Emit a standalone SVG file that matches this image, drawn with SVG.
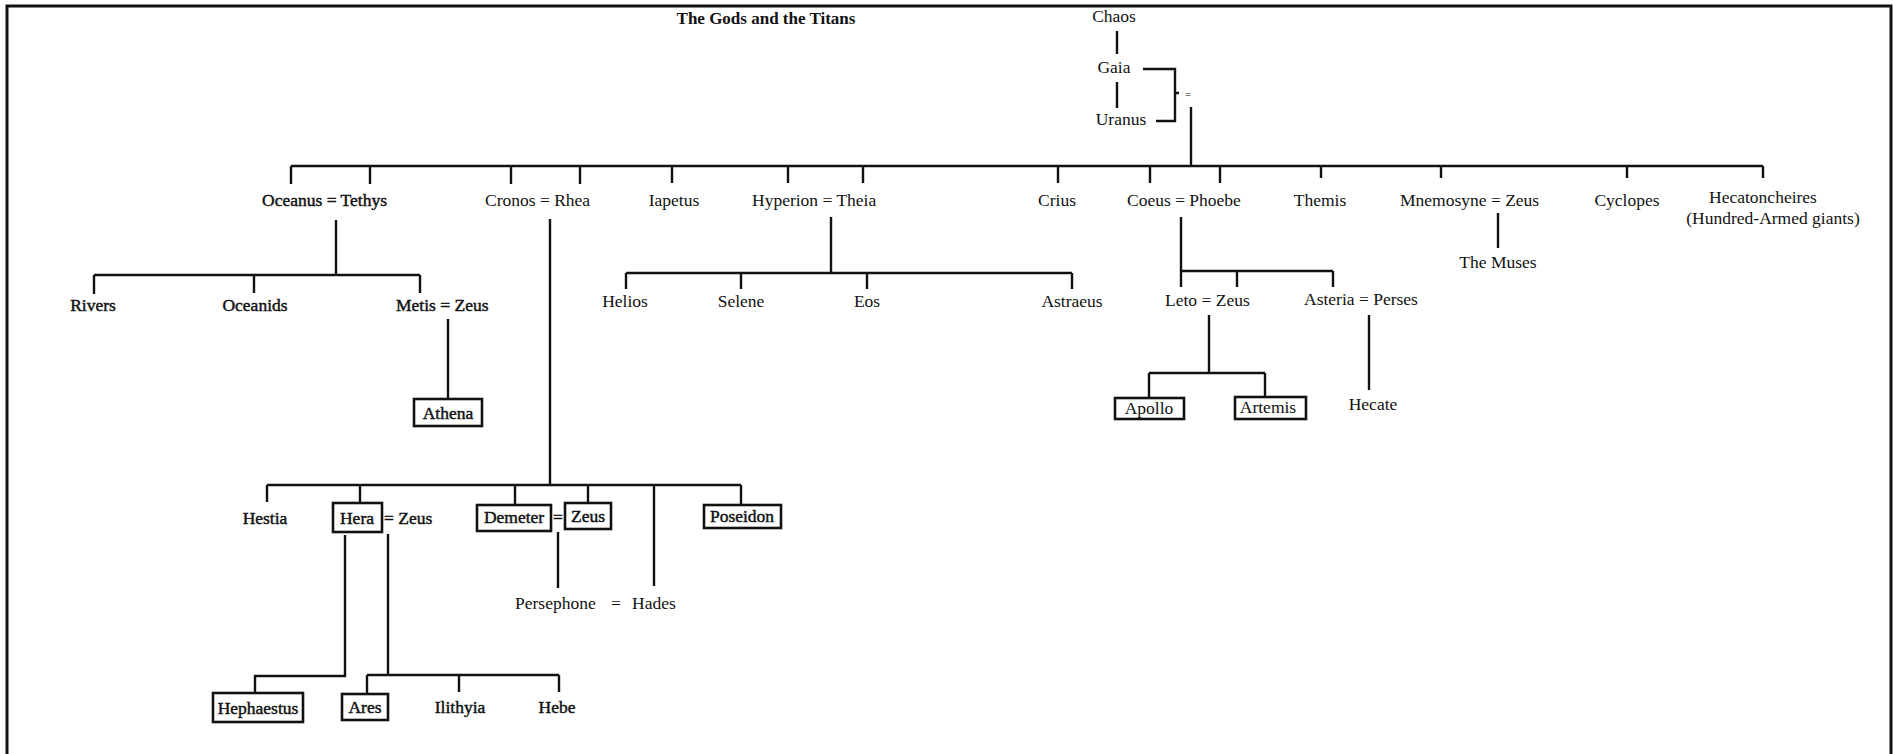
<svg xmlns="http://www.w3.org/2000/svg" width="1893" height="754" viewBox="0 0 1893 754">
<style>
.t{font-family:"Liberation Serif","Times New Roman",serif;font-size:17.5px;fill:#111}
.m{text-anchor:middle}
.b{stroke:#111;stroke-width:0.45}
.title{font-family:"Liberation Serif","Times New Roman",serif;font-size:17px;font-weight:bold;fill:#111;text-anchor:middle}
.box{fill:none;stroke:#111;stroke-width:2.6}
.ln{fill:none;stroke:#111;stroke-width:2.4}
.fr{fill:none;stroke:#111;stroke-width:3}
</style>
<rect width="1893" height="754" fill="#fff"/>
<path class="fr" d="M7,756 V6 H1891 V756"/>
<text class="title" x="766" y="24">The Gods and the Titans</text>

<g id="connectors">
<path class="ln" d="M1117,31 V54 M1117,82 V108"/>
<path class="ln" d="M1143,69 H1175 V121 H1156 M1175,93 H1179"/>
<path class="ln" d="M1191,107 V166"/>
<path class="ln" d="M291,166 H1763"/>
<path class="ln" d="M291,166 V184 M370,166 V184 M511,166 V184 M580,166 V184 M672,166 V183 M788,166 V183 M863,166 V183 M1058,166 V183 M1150,166 V183 M1220,166 V183 M1321,166 V178 M1441,166 V178 M1627,166 V178 M1763,166 V178"/>
<path class="ln" d="M336,220 V275 M94,275 H420 M94,275 V294 M254,275 V293 M420,275 V293"/>
<path class="ln" d="M448,319 V399"/>
<path class="ln" d="M550,219 V485 M267,485 H741 M267,485 V502 M360,485 V503 M515,485 V506 M588,485 V503 M654,485 V586 M741,485 V505"/>
<path class="ln" d="M831,217 V273 M626,273 H1072 M626,273 V289 M741,273 V289 M867,273 V289 M1072,273 V289"/>
<path class="ln" d="M1181,217 V287 M1181,271 H1333 M1237,271 V287 M1333,271 V287"/>
<path class="ln" d="M1209,315 V373 M1149,373 H1265 M1149,373 V399 M1265,373 V397"/>
<path class="ln" d="M1369,315 V390"/>
<path class="ln" d="M1498,213 V248"/>
<path class="ln" d="M558,532 V588"/>
<path class="ln" d="M345,535 V676 H255 V693"/>
<path class="ln" d="M388,534 V675 M367,675 H559 M367,675 V694 M459,675 V692 M559,675 V692"/>
</g>

<g id="chaos"><text class="t m" x="1114" y="22">Chaos</text></g>
<g id="gaia"><text class="t m" x="1114" y="73">Gaia</text></g>
<g id="uranus"><text class="t m" x="1121" y="125">Uranus</text></g>
<g id="gaia-uranus-eq"><text class="t" x="1185" y="98" style="font-size:11px">=</text></g>

<g id="oceanus-tethys"><text class="t b" x="262" y="206">Oceanus = Tethys</text></g>
<g id="cronos-rhea"><text class="t" x="485" y="206">Cronos = Rhea</text></g>
<g id="iapetus"><text class="t m" x="674" y="206">Iapetus</text></g>
<g id="hyperion-theia"><text class="t" x="752" y="206">Hyperion = Theia</text></g>
<g id="crius"><text class="t m" x="1057" y="206">Crius</text></g>
<g id="coeus-phoebe"><text class="t" x="1127" y="206">Coeus = Phoebe</text></g>
<g id="themis"><text class="t m" x="1320" y="206">Themis</text></g>
<g id="mnemosyne-zeus"><text class="t" x="1400" y="206">Mnemosyne = Zeus</text></g>
<g id="cyclopes"><text class="t m" x="1627" y="206">Cyclopes</text></g>
<g id="hecatoncheires"><text class="t m" x="1763" y="203">Hecatoncheires</text><text class="t m" x="1773" y="224">(Hundred-Armed giants)</text></g>

<g id="rivers"><text class="t m b" x="93" y="311">Rivers</text></g>
<g id="oceanids"><text class="t m b" x="255" y="311">Oceanids</text></g>
<g id="metis-zeus"><text class="t b" x="396" y="311">Metis = Zeus</text></g>
<g id="athena"><rect class="box" x="414" y="399" width="68" height="27"/><text class="t m b" x="448" y="419">Athena</text></g>

<g id="helios"><text class="t m" x="625" y="307">Helios</text></g>
<g id="selene"><text class="t m" x="741" y="307">Selene</text></g>
<g id="eos"><text class="t m" x="867" y="307">Eos</text></g>
<g id="astraeus"><text class="t m" x="1072" y="307">Astraeus</text></g>

<g id="leto-zeus"><text class="t" x="1165" y="306">Leto = Zeus</text></g>
<g id="asteria-perses"><text class="t" x="1304" y="305">Asteria = Perses</text></g>
<g id="apollo"><rect class="box" x="1115" y="398" width="69" height="21"/><text class="t m" x="1149" y="414">Apollo</text></g>
<g id="artemis"><rect class="box" x="1235" y="397" width="71" height="22"/><text class="t m" x="1268" y="413">Artemis</text></g>
<g id="hecate"><text class="t m" x="1373" y="410">Hecate</text></g>
<g id="muses"><text class="t m" x="1498" y="268">The Muses</text></g>

<g id="hestia"><text class="t m b" x="265" y="524">Hestia</text></g>
<g id="hera-zeus"><rect class="box" x="333" y="503" width="49" height="29"/><text class="t m b" x="357" y="524">Hera</text><text class="t b" x="384" y="524">= Zeus</text></g>
<g id="demeter-zeus"><rect class="box" x="477" y="505" width="74" height="26"/><text class="t m b" x="514" y="523">Demeter</text><text class="t m b" x="558" y="523">=</text><rect class="box" x="565" y="503" width="46" height="26"/><text class="t m b" x="588" y="522">Zeus</text></g>
<g id="poseidon"><rect class="box" x="704" y="505" width="77" height="23"/><text class="t m b" x="742" y="522">Poseidon</text></g>
<g id="persephone-hades"><text class="t"><tspan x="515" y="609">Persephone</tspan><tspan x="611" y="609">=</tspan><tspan x="632" y="609">Hades</tspan></text></g>

<g id="hephaestus"><rect class="box" x="213" y="693" width="90" height="29"/><text class="t m b" x="258" y="714">Hephaestus</text></g>
<g id="ares"><rect class="box" x="342" y="694" width="46" height="26"/><text class="t m b" x="365" y="713">Ares</text></g>
<g id="ilithyia"><text class="t m b" x="460" y="713">Ilithyia</text></g>
<g id="hebe"><text class="t m b" x="557" y="713">Hebe</text></g>
</svg>
